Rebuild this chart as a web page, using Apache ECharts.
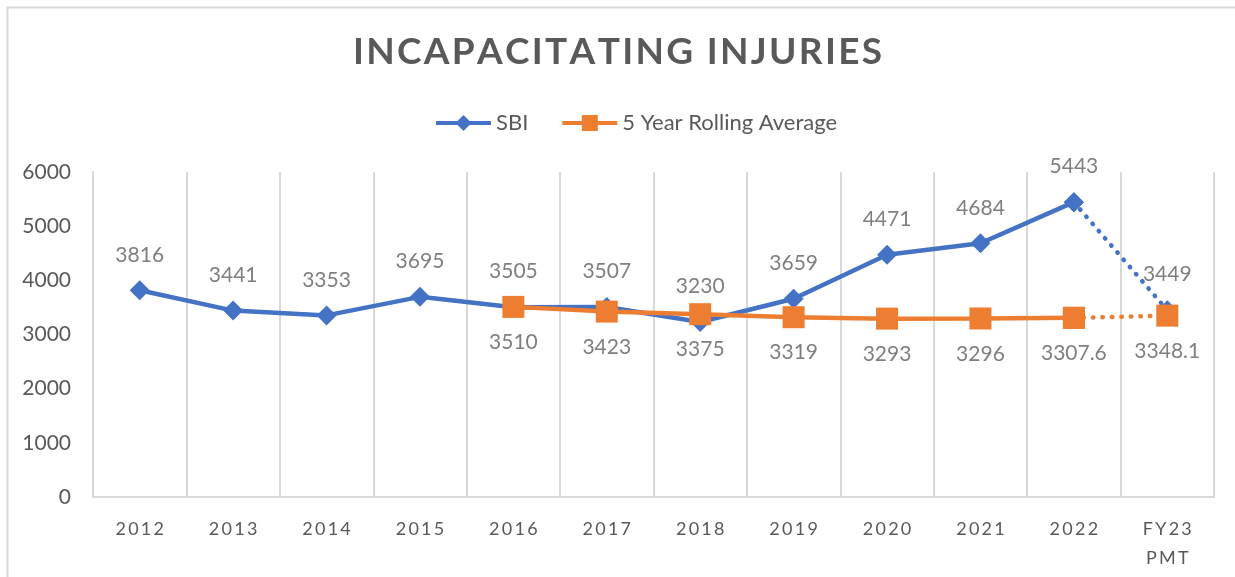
<!DOCTYPE html>
<html>
<head>
<meta charset="utf-8">
<script src="https://cdn.jsdelivr.net/npm/echarts@6/dist/echarts.min.js"></script>
<style>
html,body{margin:0;padding:0;background:#fff;}
#chart{width:1235px;height:577px;}
</style>
</head>
<body>
<div id="chart"></div>
<script>
var titleText = 'INCAPACITATING INJURIES';
var categories = ['2012','2013','2014','2015','2016','2017','2018','2019','2020','2021','2022','FY23\nPMT'];
var sbiValues = [3816,3441,3353,3695,3505,3507,3230,3659,4471,4684,5443,3449];
var avgValues = [null,null,null,null,3510,3423,3375,3319,3293,3296,3307.6,3348.1];
var yTicks = {min:0, max:6000, interval:1000};
var seriesNames = ['SBI','5 Year Rolling Average'];

var FONT = 'Lato';
var BLUE = '#4472c4', ORANGE = '#ed7d31';
var lastIdx = categories.length - 1;

function spaced(s, sp){
  return s.split('\n').map(function(line){return line.split('').join(sp);}).join('\n');
}
var sbiSolid = sbiValues.map(function(v,i){return i < lastIdx ? v : null;});
var sbiDotted = sbiValues.map(function(v,i){return i >= lastIdx-1 ? v : null;});
var avgSolid = avgValues.map(function(v,i){return i < lastIdx ? v : null;});
var avgDotted = avgValues.map(function(v,i){return i >= lastIdx-1 ? v : null;});

var labelStyle = {fontFamily:FONT, fontSize:21, color:'#7f7f7f'};

var chart = echarts.init(document.getElementById('chart'), null, {renderer:'canvas'});
chart.setOption({
  animation:false,
  backgroundColor:'#ffffff',
  graphic:[{
    type:'rect', left:5, top:5,
    shape:{x:0,y:0,width:1400,height:800},
    style:{fill:'none', stroke:'#d9d9d9', lineWidth:2},
    silent:true, z:-10
  }],
  title:{
    text: spaced(titleText, '\u200A'),
    left:'center', top:29,
    textStyle:{fontFamily:FONT, fontSize:37, fontWeight:'bold', color:'#595959'}
  },
  legend:{
    data:[
      {name:seriesNames[0], lineStyle:{width:4}},
      {name:seriesNames[1], lineStyle:{width:4}}
    ],
    top:107, left:429,
    itemWidth:55, itemHeight:20, itemGap:32,
    textStyle:{fontFamily:FONT, fontSize:22, color:'#595959'}
  },
  grid:{left:93, right:21, top:172, bottom:80},
  xAxis:{
    type:'category',
    data:categories,
    boundaryGap:true,
    axisLine:{show:true, lineStyle:{color:'#d9d9d9', width:2}},
    axisTick:{show:false},
    splitLine:{show:true, lineStyle:{color:'#d9d9d9', width:2}},
    axisLabel:{
      fontFamily:FONT, fontSize:18, color:'#595959', margin:18, lineHeight:29,
      formatter:function(v){return spaced(v, '\u2009');}
    }
  },
  yAxis:{
    type:'value',
    min:yTicks.min, max:yTicks.max, interval:yTicks.interval,
    axisLine:{show:true, lineStyle:{color:'#d9d9d9', width:2}},
    axisTick:{show:false},
    splitLine:{show:false},
    axisLabel:{fontFamily:FONT, fontSize:21, color:'#595959', margin:22,
      formatter:function(v){return String(v);}}
  },
  series:[
    {
      name:seriesNames[0], type:'line', data:sbiSolid,
      symbol:'diamond', symbolSize:20,
      lineStyle:{color:BLUE, width:4.5},
      itemStyle:{color:BLUE},
      label:Object.assign({show:true, position:'top', distance:15}, labelStyle),
      z:2
    },
    {
      name:'SBI projection', type:'line', data:sbiDotted,
      symbol:'diamond', symbolSize:20,
      lineStyle:{color:BLUE, width:4.5, type:[0.5,9], cap:'round'},
      itemStyle:{color:BLUE},
      label:Object.assign({show:true, position:'top', distance:15,
        formatter:function(p){return p.dataIndex === lastIdx ? p.value : '';}}, labelStyle),
      z:2
    },
    {
      name:seriesNames[1], type:'line', data:avgSolid,
      symbol:'rect', symbolSize:22,
      lineStyle:{color:ORANGE, width:4.5},
      itemStyle:{color:ORANGE},
      label:Object.assign({show:true, position:'bottom', distance:14}, labelStyle),
      z:3
    },
    {
      name:'Average projection', type:'line', data:avgDotted,
      symbol:'rect', symbolSize:22,
      lineStyle:{color:ORANGE, width:4.5, type:[0.5,9], cap:'round'},
      itemStyle:{color:ORANGE},
      label:Object.assign({show:true, position:'bottom', distance:14,
        formatter:function(p){return p.dataIndex === lastIdx ? p.value : '';}}, labelStyle),
      z:3
    }
  ]
});
</script>
</body>
</html>
